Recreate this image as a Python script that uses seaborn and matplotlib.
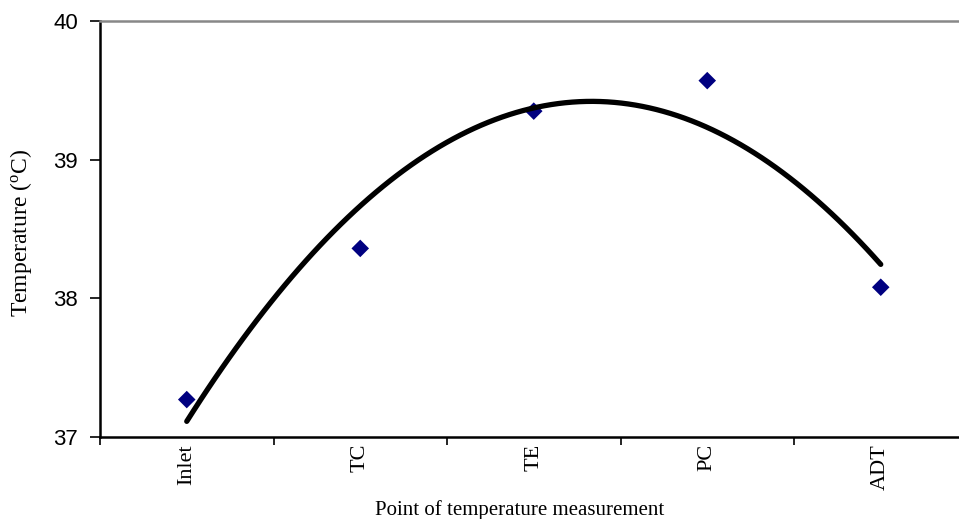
import numpy as np
import pandas as pd
import matplotlib
matplotlib.use("Agg")
import matplotlib.pyplot as plt
import seaborn as sns

categories = ["Inlet", "TC", "TE", "PC", "ADT"]
temperatures = [37.27, 38.36, 39.35, 39.57, 38.08]
y_ticks = [37, 38, 39, 40]

sns.set_style("white")
plt.rcParams["mathtext.fontset"] = "custom"
plt.rcParams["mathtext.rm"] = "Liberation Serif"
plt.rcParams["mathtext.it"] = "Liberation Serif:italic"
plt.rcParams["text.color"] = "black"
plt.rcParams["axes.labelcolor"] = "black"
plt.rcParams["xtick.color"] = "black"
plt.rcParams["ytick.color"] = "black"

df = pd.DataFrame({"pos": np.arange(len(categories)), "temp": temperatures})

fig = plt.figure(figsize=(9.59, 5.19), dpi=100)
ax = fig.add_axes([100 / 959, 82 / 519, 867.5 / 959, 416 / 519])

sns.scatterplot(data=df, x="pos", y="temp", marker="D", s=80, color="#000080",
                edgecolor="none", ax=ax, zorder=2)
sns.regplot(data=df, x="pos", y="temp", order=2, ci=None, scatter=False, ax=ax,
            truncate=True, line_kws={"color": "black", "lw": 3.8, "zorder": 3,
                                     "solid_capstyle": "round"})

ax.set_xlim(-0.5, len(categories) - 0.5)
ax.set_ylim(37, 40)
ax.set_yticks(y_ticks)
ax.set_yticklabels([str(v) for v in y_ticks], fontfamily="Liberation Sans", fontsize=16, color="black")
ax.set_xticks(np.arange(len(categories)))
ax.set_xticklabels(categories, rotation=90, fontfamily="Liberation Serif", fontsize=16, color="black")
ax.set_xticks(np.arange(-0.5, len(categories) + 0.5, 1), minor=True)
ax.tick_params(axis="x", which="major", length=0, pad=5)
ax.tick_params(axis="x", which="minor", length=6, width=1.2, color="black", direction="out", bottom=True)
ax.tick_params(axis="y", which="major", length=7, width=1.2, color="black", direction="out", left=True, pad=9)

for side in ["left", "bottom"]:
    ax.spines[side].set_color("black")
    ax.spines[side].set_linewidth(1.8)
ax.spines["right"].set_visible(False)
ax.spines["top"].set_color("#888888")
ax.spines["top"].set_linewidth(1.8)

ax.set_xlabel("Point of temperature measurement", fontfamily="Liberation Serif", fontsize=15, color="black")
ax.set_ylabel("Temperature ($^{\\mathrm{o}}$C)", fontfamily="Liberation Serif", fontsize=17, color="black")
ax.xaxis.set_label_coords((520 - 100) / 867.5, (437 - 500) / 416)
ax.yaxis.set_label_coords((34 - 100) / 867.5, (437 - 233) / 416)

fig.savefig("out.png", dpi=100)
